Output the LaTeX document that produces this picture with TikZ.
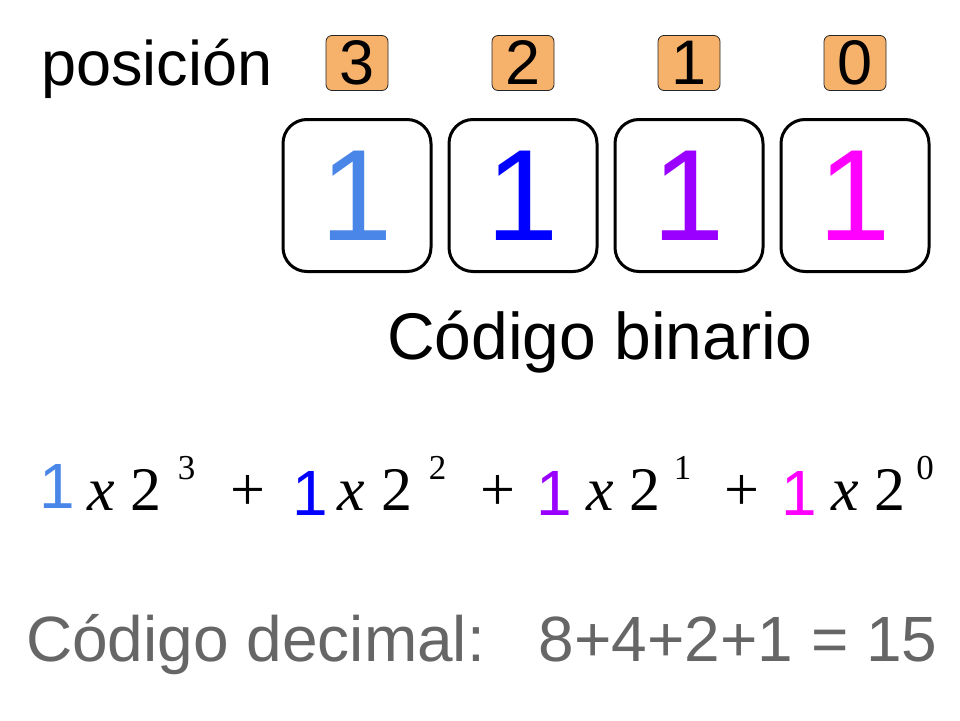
\documentclass[tikz,border=0pt]{standalone}
\usepackage{fontspec}
\setmainfont{Liberation Sans}
\newfontfamily\timesf{Liberation Serif}
\definecolor{cA}{HTML}{4A86E8}
\definecolor{cB}{HTML}{0000FF}
\definecolor{cC}{HTML}{9900FF}
\definecolor{cD}{HTML}{FF00FF}
\definecolor{grayT}{HTML}{666666}
\definecolor{orangeC}{HTML}{F6B26B}
\tikzset{
  bigbox/.style={draw, line width=3pt, rounded corners=24pt, minimum width=148pt, minimum height=152pt, inner sep=0pt, font=\fontsize{130}{130}\selectfont},
  posbox/.style={draw=black!85, line width=0.8pt, fill=orangeC, rounded corners=6pt, minimum width=62pt, minimum height=55pt, inner sep=0pt, font=\fontsize{63}{63}\selectfont},
  lbl/.style={inner sep=0pt, font=\fontsize{63}{63}\selectfont},
  tm/.style={inner sep=0pt, anchor=base, font=\timesf\fontsize{62}{62}\selectfont},
  tmi/.style={inner sep=0pt, anchor=base, font=\timesf\itshape\fontsize{62}{62}\selectfont},
  tms/.style={inner sep=0pt, anchor=base, font=\timesf\fontsize{35}{35}\selectfont},
  one/.style={inner sep=0pt, anchor=base, font=\fontsize{64}{64}\selectfont},
}
\begin{document}
\begin{tikzpicture}[x=1pt,y=-1pt]
\useasboundingbox (0,0) rectangle (960,720);
% label
\node[lbl, anchor=base west] (pos) at (41,85) {posición};
% position boxes
\node[posbox] (p3) at (357,63) {3};
\node[posbox] (p2) at (523,63) {2};
\node[posbox] (p1) at (689,63) {1};
\node[posbox] (p0) at (855,63) {0};
% binary boxes
\node[bigbox, text=cA] (b3) at (357,195.5) {1};
\node[bigbox, text=cB] (b2) at (523,195.5) {1};
\node[bigbox, text=cC] (b1) at (689,195.5) {1};
\node[bigbox, text=cD] (b0) at (855,195.5) {1};
\node[inner sep=0pt, anchor=base, font=\fontsize{66}{66}\selectfont] (bin) at (600,359) {Código binario};
% formula
\node[one, text=cA] (f1) at (57.5,508) {1};
\node[tmi] (x1) at (101,510) {x};
\node[tm] (d1) at (145.5,510) {2};
\node[tms] (s1) at (186.5,479) {3};
\node[tm] (pl1) at (247.5,510) {+};
\node[one, text=cB] (f2) at (310,515) {1};
\node[tmi] (x2) at (351,510) {x};
\node[tm] (d2) at (396.5,510) {2};
\node[tms] (s2) at (437.5,479) {2};
\node[tm] (pl2) at (497.5,510) {+};
\node[one, text=cC] (f3) at (554.5,515) {1};
\node[tmi] (x3) at (600,510) {x};
\node[tm] (d3) at (645,510) {2};
\node[tms] (s3) at (682.5,479) {1};
\node[tm] (pl3) at (741.5,510) {+};
\node[one, text=cD] (f4) at (799.5,515) {1};
\node[tmi] (x4) at (845,510) {x};
\node[tm] (d4) at (890,510) {2};
\node[tms] (s4) at (925,479) {0};
% decimal
\node[inner sep=0pt, anchor=base west, text=grayT, font=\fontsize{64}{64}\selectfont] (dec) at (26,661) {Código decimal:\hspace{54pt}8+4+2+1 = 15};
\end{tikzpicture}
\end{document}
